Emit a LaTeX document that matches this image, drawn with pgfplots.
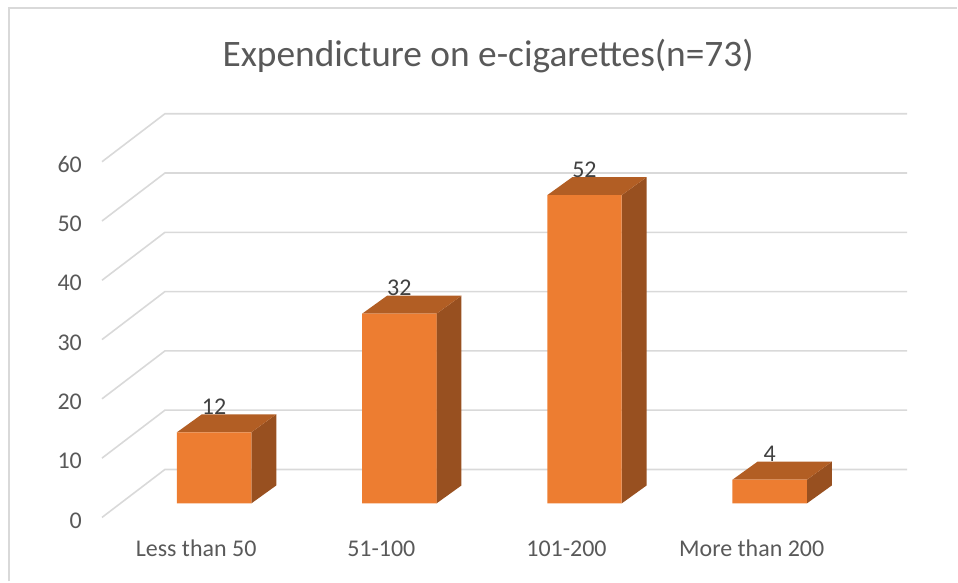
\documentclass[border=0pt]{standalone}
\usepackage{pgfplots}
\pgfplotsset{compat=1.18}
\usepackage{fontspec}
\setmainfont{Carlito}
\definecolor{gridc}{HTML}{D9D9D9}
\definecolor{barfront}{HTML}{ED7D31}
\definecolor{bartop}{HTML}{B25E24}
\definecolor{barside}{HTML}{985020}
\definecolor{txtc}{HTML}{595959}
\definecolor{lblc}{HTML}{404040}
\begin{document}
\begin{tikzpicture}
\begin{axis}[
    scale only axis, width=958pt, height=582pt,
    xmin=-1.1556, xmax=4.0116, ymin=-13.142, ymax=84.92,
    clip=false,
    axis line style={draw=none}, major tick length=0pt,
    xtick pos=bottom, ytick pos=left,
    xtick={0,1,2,3},
    xticklabels={Less than 50,51-100,101-200,More than 200},
    ytick={0,10,20,30,40,50,60},
    /pgf/number format/assume math mode=true,
    xticklabel style={anchor=center, inner sep=0pt, yshift=33pt, xshift=-18pt, font=\fontsize{24}{28}\selectfont, text=txtc},
    yticklabel style={anchor=east, inner sep=0pt, xshift=82pt, yshift=-17pt, font=\fontsize{24}{28}\selectfont, text=txtc},
    title={Expendicture on e-cigarettes(n=73)},
    title style={at={(0.51,0.8935)}, anchor=center, inner sep=0pt, font=\fontsize{37.4}{44}\selectfont, text=txtc},
]
% outer frame
\addplot[gridc, line width=2pt] coordinates {(-1.107,-13.142) (-1.107,83.57) (4.0116,83.57)};
% walls: side wall slant, then back wall
\addplot[gridc, line width=1.6pt] coordinates {(-0.6054,-2.36) (-0.2656,5.73) (3.7419,5.73)};
\addplot[gridc, line width=1.6pt] coordinates {(-0.6054,7.64) (-0.2656,15.73) (3.7419,15.73)};
\addplot[gridc, line width=1.6pt] coordinates {(-0.6054,17.64) (-0.2656,25.73) (3.7419,25.73)};
\addplot[gridc, line width=1.6pt] coordinates {(-0.6054,27.64) (-0.2656,35.73) (3.7419,35.73)};
\addplot[gridc, line width=1.6pt] coordinates {(-0.6054,37.64) (-0.2656,45.73) (3.7419,45.73)};
\addplot[gridc, line width=1.6pt] coordinates {(-0.6054,47.64) (-0.2656,55.73) (3.7419,55.73)};
\addplot[gridc, line width=1.6pt] coordinates {(-0.6054,57.64) (-0.2656,65.73) (3.7419,65.73)};
% side faces
\addplot[fill=barside, draw=none] coordinates {(0.2009,0) (0.3357,3.033) (0.3357,15.033) (0.2009,12)} -- cycle;
\addplot[fill=barside, draw=none] coordinates {(1.2009,0) (1.3357,3.033) (1.3357,35.033) (1.2009,32)} -- cycle;
\addplot[fill=barside, draw=none] coordinates {(2.2009,0) (2.3357,3.033) (2.3357,55.033) (2.2009,52)} -- cycle;
\addplot[fill=barside, draw=none] coordinates {(3.2009,0) (3.3357,3.033) (3.3357,7.033) (3.2009,4)} -- cycle;
% top faces
\addplot[fill=bartop, draw=none] coordinates {(-0.2009,12) (0.2009,12) (0.3357,15.033) (-0.0661,15.033)} -- cycle;
\addplot[fill=bartop, draw=none] coordinates {(0.7991,32) (1.2009,32) (1.3357,35.033) (0.9339,35.033)} -- cycle;
\addplot[fill=bartop, draw=none] coordinates {(1.7991,52) (2.2009,52) (2.3357,55.033) (1.9339,55.033)} -- cycle;
\addplot[fill=bartop, draw=none] coordinates {(2.7991,4) (3.2009,4) (3.3357,7.033) (2.9339,7.033)} -- cycle;
% front faces
\addplot[ybar, bar shift=0pt, bar width=74.5pt, fill=barfront, draw=none,
    nodes near coords,
    every node near coord/.append style={anchor=center, inner sep=0pt, yshift=25.5pt, text=lblc, font=\fontsize{24}{28}\selectfont, /pgf/number format/assume math mode=true}]
    coordinates {(0,12) (1,32) (2,52) (3,4)};
\end{axis}
\end{tikzpicture}
\end{document}
